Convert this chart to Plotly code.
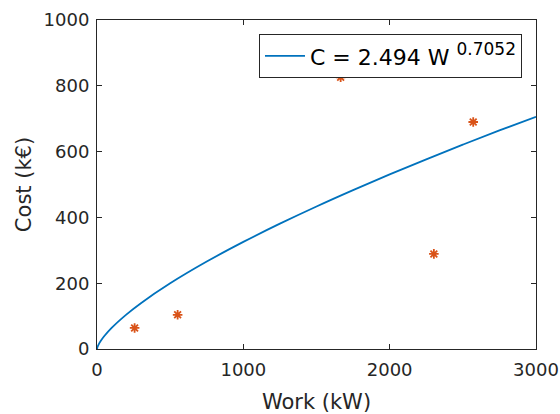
import plotly.graph_objects as go

# Fitted curve values
curve_w = [0, 2, 5, 10, 25, 50, 100, 200, 300, 500, 750, 1000, 1250, 1500, 1750, 2000, 2250, 2500, 2750, 3000]
curve_c = [0, 4.1, 7.8, 12.7, 24.1, 39.4, 64.2, 104.6, 139.3, 199.6, 265.7, 325.5, 380.9, 433.2, 482.9, 530.7, 576.6, 621.1, 664.3, 706.0]

# Data points
data_w = [257, 551, 1665, 2302, 2571]
data_c = [64, 104, 826, 289, 690]

x_ticks = [0, 1000, 2000, 3000]
y_ticks = [0, 200, 400, 600, 800, 1000]

FONT = "DejaVu Sans"
AX = "#262626"

fig = go.Figure()
fig.add_trace(go.Scatter(
    x=curve_w, y=curve_c, mode="lines", line=dict(color="#0072BD", width=1.8, shape="spline"),
    name='C = 2.494 W <sup><span style="font-size:17px">0.7052</span></sup>', showlegend=True,
))
fig.add_trace(go.Scatter(
    x=data_w, y=data_c, mode="markers",
    marker=dict(symbol="asterisk-open", size=8, color="#D95319", line=dict(color="#D95319", width=1.8)),
    showlegend=False,
))

axis_common = dict(
    showline=True, linecolor=AX, linewidth=1, mirror="ticks", ticks="inside", ticklen=5,
    tickcolor=AX, tickwidth=1, showgrid=False, zeroline=False, automargin=False,
    tickfont=dict(family=FONT, size=18, color=AX),
)
fig.update_xaxes(range=[0, 3000], tickvals=x_ticks, ticktext=[str(v) for v in x_ticks],
                 title=dict(text="Work (kW)", font=dict(family=FONT, size=21, color=AX), standoff=15),
                 ticklabelstandoff=4, **axis_common)
fig.update_yaxes(range=[0, 1000], tickvals=y_ticks, ticktext=[str(v) for v in y_ticks],
                 title=dict(text="Cost (k€)", font=dict(family=FONT, size=21, color=AX), standoff=6),
                 ticklabelstandoff=3, **axis_common)

fig.update_layout(
    width=560, height=414, margin=dict(l=97, r=24, t=20, b=65),
    paper_bgcolor="white", plot_bgcolor="white",
    font=dict(family=FONT, color="black"),
    legend=dict(x=0.369, y=0.957, xanchor="left", yanchor="top",
                bgcolor="white", bordercolor=AX, borderwidth=1,
                font=dict(family=FONT, size=22, color="black"), itemwidth=40),
)
fig.write_html("out.html", config={"displayModeBar": False},
               post_script="document.body.style.margin='0';document.body.style.overflow='hidden';")
